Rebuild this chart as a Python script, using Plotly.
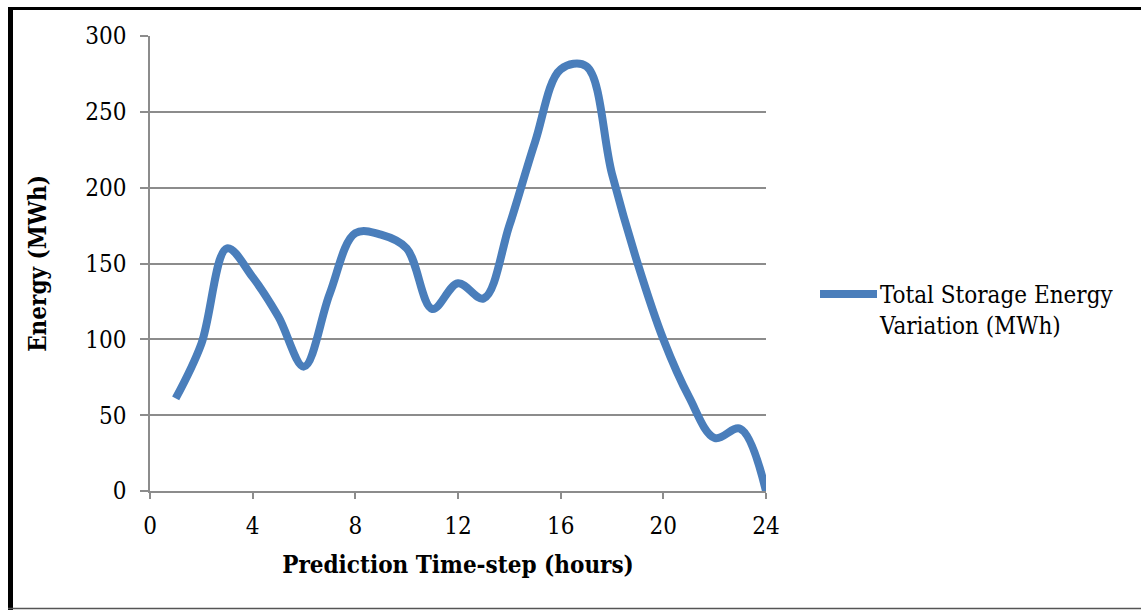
import plotly.graph_objects as go

hours = list(range(1, 25))
energy = [61, 97, 160, 141, 115, 82, 130, 170, 169, 160, 120, 137,
          127, 175, 230, 278, 280, 209, 150, 100, 62, 35, 41, 0]
x_ticks = [0, 4, 8, 12, 16, 20, 24]
y_ticks = [0, 50, 100, 150, 200, 250, 300]
series_name = "Total Storage Energy<br>Variation (MWh)"

W, H = 1141, 610
L, R, T, B = 150, 766, 36, 491
FONT = "DejaVu Serif Condensed, DejaVu Serif"
FS = 24
LINE_COLOR = "#4a7ebb"


def px(x):
    return (x - L) / (R - L)


def py(y):
    return (B - y) / (B - T)


fig = go.Figure()
fig.add_trace(go.Scatter(
    x=hours, y=energy, mode="lines", name=series_name, showlegend=False,
    line=dict(color=LINE_COLOR, width=8, shape="spline", smoothing=1),
))

fig.update_layout(
    width=W, height=H,
    margin=dict(l=L, r=W - R, t=T, b=H - B, pad=0),
    paper_bgcolor="white", plot_bgcolor="white",
    font=dict(family=FONT, size=FS, color="black"),
    xaxis=dict(range=[0, 24], tickvals=x_ticks, showgrid=False,
               showline=True, linecolor="#8c8c8c", linewidth=1.5,
               ticks="outside", ticklen=6, tickcolor="#8c8c8c", tickwidth=1.5,
               zeroline=False, ticklabelstandoff=6,
               title=dict(text="<b>Prediction Time-step (hours)</b>",
                          font=dict(size=FS, family=FONT), standoff=18)),
    yaxis=dict(range=[0, 300], tickvals=y_ticks, showgrid=True,
               gridcolor="#8c8c8c", gridwidth=1.5,
               showline=True, linecolor="#8c8c8c", linewidth=1.5,
               ticks="outside", ticklen=8, tickcolor="#8c8c8c", tickwidth=1.5,
               zeroline=False, ticklabelstandoff=9,
               title=dict(text="<b>Energy (MWh)</b>",
                          font=dict(size=FS, family=FONT), standoff=32)),
    annotations=[
        dict(xref="paper", yref="paper", x=px(877), y=py(279),
             xanchor="left", yanchor="top", align="left", showarrow=False,
             text=series_name, font=dict(size=FS, family=FONT)),
    ],
    shapes=[
        dict(type="line", xref="paper", yref="paper",
             x0=px(820), x1=px(877), y0=py(294), y1=py(294),
             line=dict(color=LINE_COLOR, width=8)),
        dict(type="line", xref="paper", yref="paper",
             x0=px(10.5), x1=px(10.5), y0=py(7), y1=py(610),
             line=dict(color="black", width=5)),
        dict(type="line", xref="paper", yref="paper",
             x0=px(8), x1=px(1141), y0=py(8.5), y1=py(8.5),
             line=dict(color="black", width=3)),
        dict(type="line", xref="paper", yref="paper",
             x0=px(8), x1=px(1141), y0=py(608.5), y1=py(608.5),
             line=dict(color="#555555", width=1.5)),
    ],
)

fig.write_html("out.html")
